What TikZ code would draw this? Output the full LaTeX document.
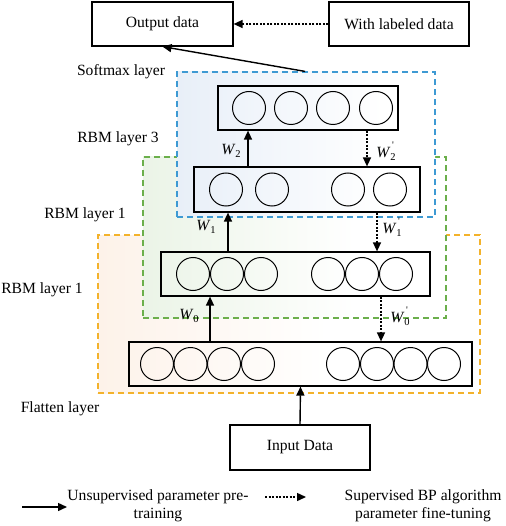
\documentclass[tikz,border=0pt]{standalone}
\usepackage{fontspec}
\setmainfont{Liberation Serif}
\usetikzlibrary{arrows.meta}
\definecolor{bluedash}{HTML}{3E9AD3}
\definecolor{bluefill}{HTML}{E8EFF8}
\definecolor{greendash}{HTML}{6BAF4B}
\definecolor{greenfill}{HTML}{EBF4E7}
\definecolor{orangedash}{HTML}{F3B22B}
\definecolor{orangefill}{HTML}{FDF2E9}
\pgfdeclarehorizontalshading{bluefade}{100bp}{color(0bp)=(bluefill); color(25bp)=(bluefill); color(65bp)=(white); color(100bp)=(white)}
\pgfdeclarehorizontalshading{greenfade}{100bp}{color(0bp)=(greenfill); color(25bp)=(greenfill); color(60bp)=(white); color(100bp)=(white)}
\pgfdeclarehorizontalshading{orangefade}{100bp}{color(0bp)=(orangefill); color(25bp)=(orangefill); color(55bp)=(white); color(100bp)=(white)}
\newcommand\Wlab[1]{\textit{W}\raisebox{-0.45ex}{\fontsize{10.5}{12}\selectfont #1}}
\newcommand\Wplab[1]{\textit{W}\makebox[0pt][l]{\raisebox{1.25ex}{\fontsize{10}{12}\selectfont\,\textquotesingle}}\raisebox{-0.45ex}{\fontsize{10.5}{12}\selectfont #1}}
\tikzset{
  box/.style={draw, line width=1.2pt, minimum height=44pt, inner sep=0pt},
  unit/.style={draw, circle, line width=1pt, minimum size=33pt, inner sep=0pt},
  region/.style={line width=1.2pt, dash pattern=on 6pt off 4pt, inner sep=0pt},
  arr/.style={line width=1.4pt, -{Triangle[length=9pt,width=8pt]}},
  darr/.style={line width=1.4pt, dash pattern=on 2pt off 1.5pt, -{Triangle[length=9pt,width=8pt]}},
  lbl/.style={inner sep=0pt},
}
\begin{document}
\begin{tikzpicture}[x=1pt,y=-1pt,font=\fontsize{15.6}{18}\selectfont]
\useasboundingbox (0,0) rectangle (505,526);
% regions
\node[region, draw=orangedash, shading=orangefade, minimum width=382pt, minimum height=158pt] (orange) at (289,314) {};
\node[region, draw=greendash, shading=greenfade, minimum width=303pt, minimum height=161pt] (green) at (294.5,237.5) {};
\node[region, draw=bluedash, shading=bluefade, minimum width=258pt, minimum height=145pt] (blue) at (306,144.5) {};
% top boxes
\node[box, minimum width=141pt] (out) at (162.5,24) {Output data};
\node[box, minimum width=140pt] (lab) at (399,24) {With labeled data};
\node[box, minimum width=140pt, minimum height=45pt] (in) at (300,447.5) {Input Data};
% layer boxes
\node[box, minimum width=180pt] (b1) at (308,108) {};
\node[box, minimum width=226pt, minimum height=45pt] (b2) at (307,189.5) {};
\node[box, minimum width=269pt] (b3) at (295.5,274) {};
\node[box, minimum width=343pt] (b4) at (300.5,364) {};
% units
\foreach \x [count=\i] in {249,291,333,376} \node[unit] (u1\i) at (\x,108) {};
\foreach \x [count=\i] in {226,272,348,390} \node[unit] (u2\i) at (\x,189.5) {};
\foreach \x [count=\i] in {193,227,261,328,362,396} \node[unit] (u3\i) at (\x,274) {};
\foreach \x [count=\i] in {157,190.5,224,258,343,377,410.5,444} \node[unit] (u4\i) at (\x,364) {};
% layer labels
\node[lbl] (tsoft) at (121,72) {Softmax layer};
\node[lbl] (trbm3) at (118,139) {RBM layer 3};
\node[lbl] (trbm1a) at (85,215) {RBM layer 1};
\node[lbl] (trbm1b) at (42,290) {RBM layer 1};
\node[lbl] (tflat) at (60,409) {Flatten layer};
% connectors
\coordinate (xs) at (305,0);
\coordinate (xw2) at (248,0);
\coordinate (xw2p) at (367,0);
\coordinate (xw1) at (228,0);
\coordinate (xw1p) at (377,0);
\coordinate (xw0) at (210,0);
\coordinate (xw0p) at (381,0);
\draw[arr] (xs |- blue.north) -- (out.south);
\draw[darr] (lab.west) -- (out.east);
\draw[arr] (xw2 |- b2.north) -- (xw2 |- b1.south);
\draw[darr] (xw2p |- b1.south) -- (xw2p |- b2.north);
\draw[arr] (xw1 |- b3.north) -- (xw1 |- b2.south);
\draw[darr] (xw1p |- b2.south) -- (xw1p |- b3.north);
\draw[arr] (xw0 |- b4.north) -- (xw0 |- b3.south);
\draw[darr] (xw0p |- b3.south) -- (xw0p |- b4.north);
\draw[arr] (in.north) -- (b4.south);
% weight labels
\node[lbl] (w2) at (231,151) {\Wlab{2}};
\node[lbl] (w2p) at (386,151) {\Wplab{2}};
\node[lbl] (w1) at (206,227) {\Wlab{1}};
\node[lbl] (w1p) at (392,227) {\Wplab{1}};
\node[lbl] (w0) at (189,316) {\Wlab{0}};
\node[lbl] (w0p) at (400,316) {\Wplab{0}};
% legend
\coordinate (la1) at (22,507);
\coordinate (la2) at (67,507);
\draw[arr] (la1) -- (la2);
\node[lbl, align=center] (lt1) at (158,506) {Unsupervised parameter pre-\\training};
\coordinate (lb1) at (265,497);
\coordinate (lb2) at (306,497);
\draw[darr] (lb1) -- (lb2);
\node[lbl, align=center] (lt2) at (423,506) {Supervised BP algorithm\\parameter fine-tuning};
\end{tikzpicture}
\end{document}
